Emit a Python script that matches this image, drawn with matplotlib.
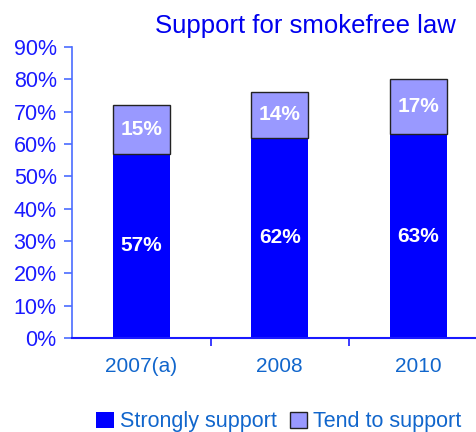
import matplotlib
matplotlib.use("Agg")
import matplotlib.pyplot as plt
import numpy as np

plt.rcParams['font.family'] = ['Liberation Sans', 'DejaVu Sans']

categories = ["2007(a)", "2008", "2010"]
strongly = [57, 62, 63]
tend = [15, 14, 17]
yticks = [0, 10, 20, 30, 40, 50, 60, 70, 80, 90]

fig = plt.figure(figsize=(4.76, 4.32), dpi=100)
ax = fig.add_axes([72/476, 94/432, 415.5/476, 291/432])

x = np.arange(len(categories))
w = 0.41
b1 = ax.bar(x, strongly, width=w, color='#0000FF', edgecolor='none', label='Strongly support')
b2 = ax.bar(x, tend, width=w, bottom=strongly, color='#9999FF', edgecolor='#222222',
            linewidth=1.0, label='Tend to support')

for i in range(len(categories)):
    ax.text(x[i], strongly[i] / 2, f"{strongly[i]}%", ha='center', va='center',
            color='white', fontsize=15, fontweight='bold')
    ax.text(x[i], strongly[i] + tend[i] / 2, f"{tend[i]}%", ha='center', va='center',
            color='white', fontsize=15, fontweight='bold')

ax.set_xlim(-0.5, 2.5)
ax.set_ylim(0, 90)
ax.set_yticks(yticks)
ax.set_yticklabels([f"{v}%" for v in yticks], color='#1a1aff', fontsize=15.5)
ax.set_xticks(x)
ax.set_xticklabels(categories, color='#1166cc', fontsize=15)
ax.tick_params(axis='x', length=0, pad=14)
ax.set_xticks([0.5, 1.5], minor=True)
ax.tick_params(axis='x', which='minor', length=6, width=1.2, color='#1a1aff', direction='out')
ax.tick_params(axis='y', length=6, width=1.2, color='#4a6cff', direction='out', pad=5)

for s in ['top', 'right']:
    ax.spines[s].set_visible(False)
ax.spines['left'].set_color('#4a6cff')
ax.spines['left'].set_linewidth(1.2)
ax.spines['bottom'].set_color('#1a1aff')
ax.spines['bottom'].set_linewidth(1.5)

fig.text(305/476, 1 - 26/432, "Support for smokefree law", color='#0000EE', fontsize=18.5,
         ha='center', va='center')

leg = fig.legend(handles=[b1, b2], labels=['Strongly support', 'Tend to support'],
                 loc='center', bbox_to_anchor=(279/476, 1 - 422/432), ncol=2, frameon=False,
                 fontsize=15.5, handlelength=0.8, handleheight=0.8, handletextpad=0.3,
                 columnspacing=0.6, borderaxespad=0)
for t in leg.get_texts():
    t.set_color('#1166cc')

fig.savefig("out.png", dpi=100)
